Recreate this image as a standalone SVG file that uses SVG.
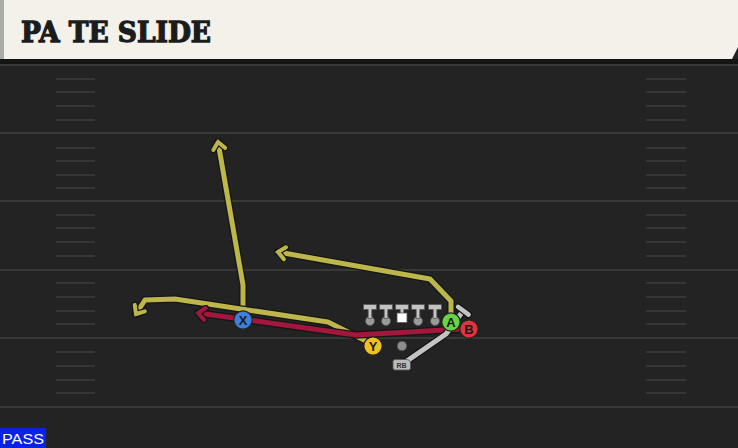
<svg xmlns="http://www.w3.org/2000/svg" width="738" height="448" viewBox="0 0 738 448">
<style>
.yard{stroke:#383838;stroke-width:2}
.hash{stroke:#363636;stroke-width:2}
.ol{fill:none;stroke:#151515;stroke-width:7.5;stroke-linejoin:round;stroke-linecap:round}
.yel{fill:none;stroke:#bdb64a;stroke-width:5;stroke-linejoin:round;stroke-linecap:round}
.red{fill:none;stroke:#a3173c;stroke-width:5;stroke-linejoin:round;stroke-linecap:round}
.gry{fill:none;stroke:#c4c4c4;stroke-width:5;stroke-linejoin:round;stroke-linecap:butt}
.lbl{font-family:"Liberation Sans","DejaVu Sans",sans-serif;font-weight:bold;font-size:13px;fill:#1a1a1a;text-anchor:middle}
.ln{fill:#c3c3c3;stroke:#555;stroke-width:0.8}
.dot{fill:#9a9a9a;stroke:#555;stroke-width:0.8}
</style>
<defs>
<marker id="ahY" viewBox="-12 -9 14 18" markerWidth="14" markerHeight="18" refX="0" refY="0" orient="auto" markerUnits="userSpaceOnUse">
<path d="M-7,-6 L0,0 L-7,6" fill="none" stroke="#151515" stroke-width="6.5" stroke-linecap="round" stroke-linejoin="round"/>
<path d="M-7,-6 L0,0 L-7,6" fill="none" stroke="#bdb64a" stroke-width="4" stroke-linecap="round" stroke-linejoin="round"/>
</marker>
<marker id="ahR" viewBox="-12 -9 14 18" markerWidth="14" markerHeight="18" refX="0" refY="0" orient="auto" markerUnits="userSpaceOnUse">
<path d="M-7,-6 L0,0 L-7,6" fill="none" stroke="#151515" stroke-width="6.5" stroke-linecap="round" stroke-linejoin="round"/>
<path d="M-7,-6 L0,0 L-7,6" fill="none" stroke="#a3173c" stroke-width="4" stroke-linecap="round" stroke-linejoin="round"/>
</marker>
</defs>

<!-- field -->
<rect x="0" y="0" width="738" height="448" fill="#232323"/>
<rect x="0" y="59" width="738" height="6" fill="#141414"/>
<g id="yardlines">
<line class="yard" x1="0" y1="65" x2="738" y2="65"/>
<line class="yard" x1="0" y1="133" x2="738" y2="133"/>
<line class="yard" x1="0" y1="201" x2="738" y2="201"/>
<line class="yard" x1="0" y1="270" x2="738" y2="270"/>
<line class="yard" x1="0" y1="338" x2="738" y2="338"/>
<line class="yard" x1="0" y1="407" x2="738" y2="407"/>
</g>
<g id="hashes">
<path class="hash" d="M56,79H95M56,92H95M56,106H95M56,120H95M56,148H95M56,161H95M56,175H95M56,188H95M56,215H95M56,228H95M56,242H95M56,256H95M56,283H95M56,297H95M56,311H95M56,324H95M56,352H95M56,366H95M56,380H95M56,393H95"/>
<path class="hash" d="M646,79H686M646,92H686M646,106H686M646,120H686M646,148H686M646,161H686M646,175H686M646,188H686M646,215H686M646,228H686M646,242H686M646,256H686M646,283H686M646,297H686M646,311H686M646,324H686M646,352H686M646,366H686M646,380H686M646,393H686"/>
</g>

<!-- header -->
<g id="header">
<rect x="0" y="0" width="5" height="59" fill="#a9aba9"/>
<polygon points="4,0 738,0 738,47 732,59 4,59" fill="#f4f1ea"/>
<text x="21" y="42" font-family="'DejaVu Serif',serif" font-weight="bold" font-size="27" fill="#1c1c1c" stroke="#1c1c1c" stroke-width="1.3" textLength="190" lengthAdjust="spacingAndGlyphs">PA TE SLIDE</text>
</g>

<!-- connectors -->
<g id="connectors">
<path class="ol" d="M243,312 L243,285 L218,142"/>
<path class="yel" d="M243,312 L243,285 L218,142" marker-end="url(#ahY)"/>
<path class="ol" d="M370,343 L328,322 L175,299 L145,300 L136,314"/>
<path class="yel" d="M370,343 L328,322 L175,299 L145,300 L136,314" marker-end="url(#ahY)"/>
<path class="ol" d="M451,314 L451,301 L430,279 L278,252"/>
<path class="yel" d="M451,314 L451,301 L430,279 L278,252" marker-end="url(#ahY)"/>
<path class="ol" d="M462,329 L356,335 L198,313"/>
<path class="red" d="M462,329 L356,335 L198,313" marker-end="url(#ahR)"/>
<path class="ol" d="M404,363 L446,334 L463,311"/>
<path class="gry" d="M404,363 L446,334 L463,311"/>
<path d="M458,306.8 L468.6,314.6" stroke="#151515" stroke-width="7" stroke-linecap="round"/>
<path d="M458,306.8 L468.6,314.6" stroke="#c4c4c4" stroke-width="4.5" stroke-linecap="round"/>
</g>

<!-- linemen -->
<g id="LT"><circle class="dot" cx="370" cy="321" r="4.5"/><path class="ln" d="M363.5,304.5 h13 v5 h-4.7 v9 h-3.6 v-9 h-4.7z"/></g>
<g id="LG"><circle class="dot" cx="386" cy="321" r="4.5"/><path class="ln" d="M379.5,304.5 h13 v5 h-4.7 v9 h-3.6 v-9 h-4.7z"/></g>
<g id="C"><path class="ln" d="M395.5,304.5 h13 v5 h-4.7 v4 h-3.6 v-4 h-4.7z"/><rect x="397" y="313" width="10" height="9.5" fill="#ffffff" stroke="#555" stroke-width="0.8"/></g>
<g id="RG"><circle class="dot" cx="418" cy="321" r="4.5"/><path class="ln" d="M411.5,304.5 h13 v5 h-4.7 v9 h-3.6 v-9 h-4.7z"/></g>
<g id="RT"><circle class="dot" cx="435" cy="321" r="4.5"/><path class="ln" d="M428.5,304.5 h13 v5 h-4.7 v9 h-3.6 v-9 h-4.7z"/></g>

<!-- skill players -->
<g id="ball"><circle cx="402" cy="346" r="4.8" fill="#8e8e8e" stroke="#444" stroke-width="0.8"/></g>
<g id="RB"><path d="M395,359.5 h12 q3.5,0 3.5,3.5 v5 q0,2 -2,2 h-13.5 q-2,0 -2,-2 v-6.5 q0,-2 2,-2z" fill="#b9b9b9" stroke="#555" stroke-width="0.8"/><text x="401.5" y="368.3" font-family="'Liberation Sans',sans-serif" font-weight="bold" font-size="7" fill="#333" text-anchor="middle">RB</text></g>
<g id="Y"><circle cx="373" cy="346" r="9.2" fill="#f0c21e" stroke="#222" stroke-width="1.2"/><text class="lbl" x="373" y="350.7">Y</text></g>
<g id="X"><circle cx="243" cy="320" r="9.2" fill="#3f7fdc" stroke="#222" stroke-width="1.2"/><text class="lbl" x="243" y="324.7">X</text></g>
<g id="A"><circle cx="451" cy="322" r="9.2" fill="#6ad245" stroke="#222" stroke-width="1.2"/><text class="lbl" x="451" y="326.7">A</text></g>
<g id="B"><circle cx="469" cy="329" r="9.2" fill="#e4333c" stroke="#222" stroke-width="1.2"/><text class="lbl" x="469" y="333.7">B</text></g>

<!-- pass tag -->
<g id="pass"><rect x="0" y="428" width="46" height="20" fill="#0a22e6"/><text x="23" y="444" font-family="'Liberation Sans',sans-serif" font-size="15" fill="#ffffff" text-anchor="middle" textLength="42" lengthAdjust="spacingAndGlyphs">PASS</text></g>
</svg>
